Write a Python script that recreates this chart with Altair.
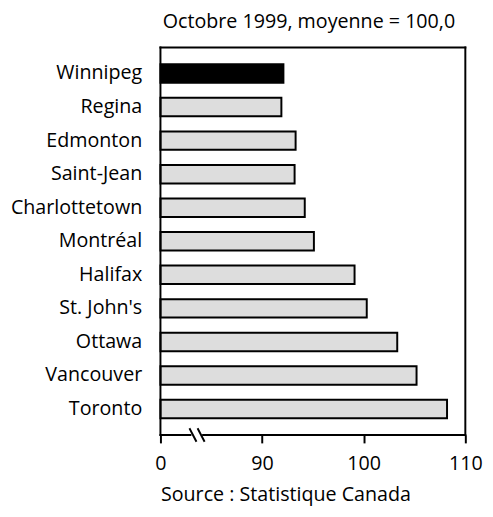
import altair as alt
import pandas as pd

cities = ["Winnipeg", "Regina", "Edmonton", "Saint-Jean", "Charlottetown", "Montréal",
          "Halifax", "St. John's", "Ottawa", "Vancouver", "Toronto"]
values = [92.1, 91.9, 93.3, 93.2, 94.2, 95.1, 99.1, 100.3, 103.3, 105.2, 108.2]
highlight = "Winnipeg"
tick_values = [80, 90, 100, 110]
title_text = "Octobre 1999, moyenne = 100,0"
source_text = "Source : Statistique Canada"

W, H = 310, 394
FONT = "Open Sans"
FS = 20
LFS = 20

df = pd.DataFrame({"city": cities, "value": values, "start": [80] * len(cities)})
df["hl"] = df["city"] == highlight

xscale = alt.Scale(domain=[80, 110], nice=False, zero=False)

bars = alt.Chart(df).mark_bar(stroke="black", strokeWidth=2).encode(
    y=alt.Y("city:N", sort=cities,
            scale=alt.Scale(paddingInner=0.45, paddingOuter=0.5),
            axis=alt.Axis(title=None, domain=False, ticks=False, labelFont=FONT,
                          labelFontSize=LFS, labelColor="black", labelPadding=19,
                          labelLimit=300)),
    x=alt.X("start:Q", scale=xscale,
            axis=alt.Axis(values=tick_values, grid=False, domain=False,
                          tickColor="black", tickWidth=2, tickSize=8,
                          labelExpr="datum.value == 80 ? '0' : datum.label",
                          labelFont=FONT, labelFontSize=FS, labelColor="black",
                          labelPadding=11, labelFlush=False,
                          title=source_text, titleAnchor="start", titleFont=FONT,
                          titleFontSize=FS, titleFontWeight="normal",
                          titleColor="black", titlePadding=12)),
    x2="value:Q",
    color=alt.condition(alt.datum.hl, alt.value("black"), alt.value("#dddddd")),
)

# frame with axis break (x in data units, y in pixels of plot area)
frame = pd.DataFrame({
    "x1": [80, 80, 110, 80, 84.2, 82.9, 83.7],
    "x2": [110, 80, 110, 82.95, 110, 83.5, 84.3],
    "y1": [0, 0, 0, H, H, H - 6, H - 6],
    "y2": [0, H, H, H, H, H + 6, H + 6],
})
rules = alt.Chart(frame).mark_rule(color="black", strokeWidth=2, strokeCap="square").encode(
    x=alt.X("x1:Q", scale=xscale),
    x2="x2:Q",
    y=alt.Y("y1:Q", scale=None),
    y2="y2:Q",
)

chart = alt.layer(bars, rules).properties(
    width=W, height=H,
    title=alt.TitleParams(title_text, font=FONT, fontSize=FS, fontWeight="normal",
                          color="black", anchor="middle", offset=14, dx=-4),
    autosize=alt.AutoSizeParams(type="none"),
    padding={"left": 155, "top": 36, "right": 20, "bottom": 70},
).configure_view(stroke=None)

chart.save("out.html", embed_options={"renderer": "svg", "actions": False})
